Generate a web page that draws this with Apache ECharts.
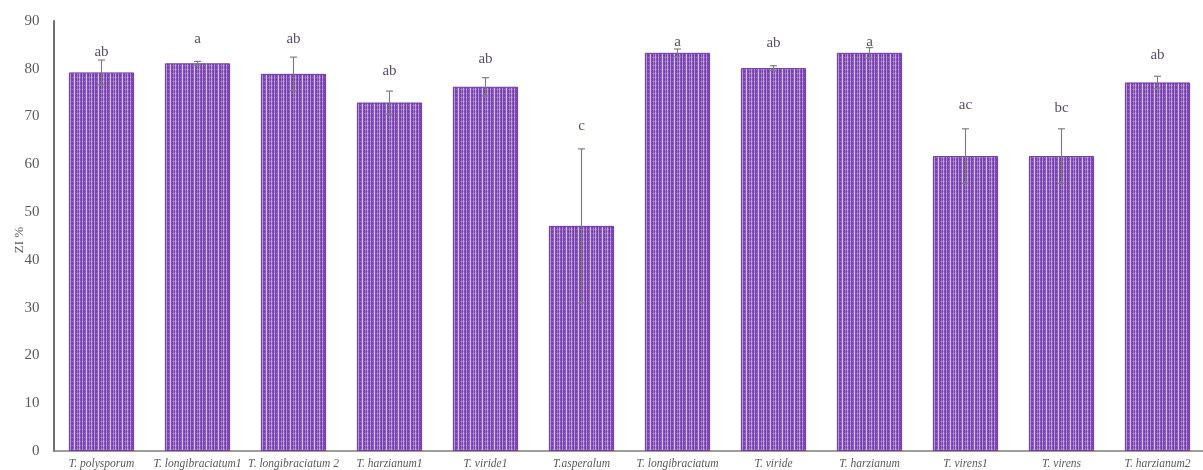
<!DOCTYPE html>
<html>
<head>
<meta charset="utf-8">
<script src="https://cdn.jsdelivr.net/npm/echarts@6/dist/echarts.min.js"></script>
<style>
  html, body { margin: 0; padding: 0; background: #ffffff; }
  #chart { width: 1203px; height: 470px; }
</style>
</head>
<body>
<div id="chart"></div>
<script>
// Strains tested
const categories = [
  'T. polysporum', 'T. longibraciatum1', 'T. longibraciatum 2', 'T. harzianum1',
  'T. viride1', 'T.asperalum', 'T. longibraciatum', 'T. viride',
  'T. harzianum', 'T. virens1', 'T. virens', 'T. harzianum2'
];
// Mean ZI %
const means = [79.2, 81.1, 78.9, 72.9, 76.2, 47.1, 83.3, 80.1, 83.3, 61.7, 61.7, 77.1];
// Standard error (symmetric)
const errors = [2.6, 0.4, 3.5, 2.4, 1.9, 16.1, 0.8, 0.5, 1.1, 5.7, 5.7, 1.3];
// Significance letters and the height they sit at
const letters = ['ab', 'a', 'ab', 'ab', 'ab', 'c', 'a', 'ab', 'a', 'ac', 'bc', 'ab'];
const letterY = [83.5, 86.2, 86.2, 79.4, 82.0, 68.0, 85.6, 85.3, 85.6, 72.4, 71.8, 82.8];
const yTicks = { min: 0, max: 90, interval: 10 };
const yTitle = 'ZI %';

// Striped purple fill for the bars
function stripePattern() {
  const c = document.createElement('canvas');
  c.width = 12; c.height = 4;
  const g = c.getContext('2d');
  const cols = ['#7440aa', '#9468c4', '#d2b8ea', '#8451b8', '#7440aa', '#a780d0',
                '#7a45ae', '#c4a3e2', '#8451b8', '#7440aa', '#b08ad6', '#7e4ab2'];
  for (let x = 0; x < 12; x++) {
    g.fillStyle = cols[x];
    g.fillRect(x, 0, 1, 4);
  }
  // dotted texture
  g.fillStyle = 'rgba(255,255,255,0.22)';
  for (let x = 0; x < 12; x += 2) g.fillRect(x, 1, 1, 1);
  g.fillStyle = 'rgba(90,30,140,0.2)';
  for (let x = 1; x < 12; x += 2) g.fillRect(x, 3, 1, 1);
  return c;
}

const serif = '"Liberation Serif", "DejaVu Serif", serif';
const chart = echarts.init(document.getElementById('chart'), null, { renderer: 'canvas' });

chart.setOption({
  animation: false,
  backgroundColor: '#ffffff',
  grid: { left: 53.5, right: -2.5, top: 20.8, bottom: 19, containLabel: false, outerBoundsMode: 'none' },
  graphic: [
    {
      // y-axis title, reading bottom to top
      type: 'text',
      x: 20, y: 240,
      rotation: Math.PI / 2,
      style: {
        text: yTitle,
        align: 'center', verticalAlign: 'middle',
        font: '13px ' + serif,
        fill: '#595959'
      }
    }
  ],
  xAxis: {
    type: 'category',
    data: categories,
    axisLine: { show: true, lineStyle: { color: '#7f7f7f', width: 1.5 } },
    axisTick: { show: false },
    axisLabel: {
      interval: 0, margin: 7,
      fontFamily: serif, fontStyle: 'italic', fontSize: 11.5, color: '#595959'
    },
    splitLine: { show: false }
  },
  yAxis: {
    type: 'value',
    min: yTicks.min, max: yTicks.max, interval: yTicks.interval,
    axisLine: { show: true, lineStyle: { color: '#404040', width: 1.5 } },
    axisTick: { show: false },
    axisLabel: { fontFamily: serif, fontSize: 15, color: '#595959', margin: 14 },
    splitLine: { show: false }
  },
  series: [
    {
      type: 'bar',
      data: means,
      barWidth: '68%',
      itemStyle: {
        color: { image: stripePattern(), repeat: 'repeat' },
        borderColor: '#6f3aa6',
        borderWidth: 1
      },
      z: 2
    },
    {
      // error bars
      type: 'custom',
      data: means.map((m, i) => [i, m, errors[i]]),
      z: 5,
      renderItem: function (params, api) {
        const i = api.value(0), m = api.value(1), e = api.value(2);
        const top = api.coord([i, m + e]);
        const bot = api.coord([i, m - e]);
        const cap = 3.5;
        const style = { stroke: '#7f7f7f', lineWidth: 1.2 };
        return {
          type: 'group',
          children: [
            { type: 'line', shape: { x1: top[0], y1: top[1], x2: bot[0], y2: bot[1] }, style },
            { type: 'line', shape: { x1: top[0] - cap, y1: top[1], x2: top[0] + cap, y2: top[1] }, style },
            { type: 'line', shape: { x1: bot[0] - cap, y1: bot[1], x2: bot[0] + cap, y2: bot[1] }, style }
          ]
        };
      }
    },
    {
      // significance letters
      type: 'custom',
      data: letterY.map((y, i) => [i, y]),
      z: 6,
      renderItem: function (params, api) {
        const p = api.coord([api.value(0), api.value(1)]);
        return {
          type: 'text',
          x: p[0], y: p[1],
          style: {
            text: letters[params.dataIndex],
            align: 'center', verticalAlign: 'middle',
            font: '15px ' + serif,
            fill: '#5a4d6e'
          }
        };
      }
    }
  ]
});
</script>
</body>
</html>
